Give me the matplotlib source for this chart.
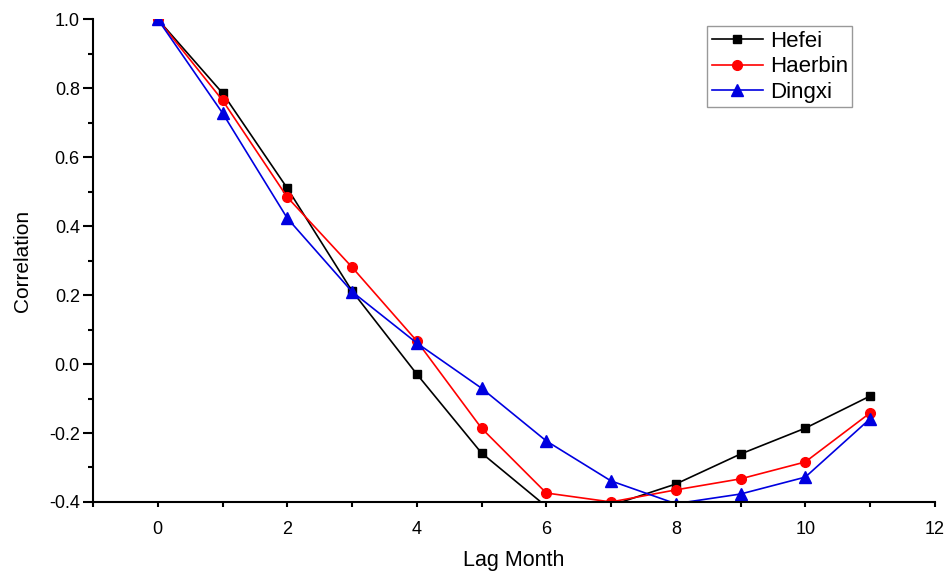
import matplotlib
matplotlib.use("Agg")
import matplotlib.pyplot as plt
from matplotlib.ticker import MultipleLocator, FormatStrFormatter

plt.rcParams['font.family'] = ['Liberation Sans', 'DejaVu Sans']

lags = [0, 1, 2, 3, 4, 5, 6, 7, 8, 9, 10, 11]
hefei = [1.0, 0.786, 0.51, 0.212, -0.029, -0.258, -0.413, -0.41, -0.348, -0.261, -0.186, -0.093]
haerbin = [1.0, 0.765, 0.484, 0.281, 0.067, -0.186, -0.374, -0.40, -0.365, -0.333, -0.284, -0.142]
dingxi = [1.0, 0.728, 0.423, 0.21, 0.061, -0.07, -0.223, -0.339, -0.405, -0.377, -0.328, -0.159]

fig = plt.figure(figsize=(9.49, 5.83), dpi=100)
ax = fig.add_axes([0.098, 0.139, 0.887, 0.828])

ax.plot(lags, hefei, color='black', marker='s', markersize=6, lw=1.2, label='Hefei')
ax.plot(lags, haerbin, color='red', marker='o', markersize=7, lw=1.2, label='Haerbin')
ax.plot(lags, dingxi, color='#0000e0', marker='^', markersize=8, lw=1.2, label='Dingxi')

ax.set_xlim(-1, 12)
ax.set_ylim(-0.4, 1.0)
ax.xaxis.set_major_locator(MultipleLocator(2))
ax.xaxis.set_minor_locator(MultipleLocator(1))
ax.yaxis.set_major_locator(MultipleLocator(0.2))
ax.yaxis.set_minor_locator(MultipleLocator(0.1))
ax.yaxis.set_major_formatter(FormatStrFormatter('%.1f'))

for s in ['top', 'right']:
    ax.spines[s].set_visible(False)
for s in ['left', 'bottom']:
    ax.spines[s].set_linewidth(1.5)
ax.tick_params(which='both', direction='out', width=1.5, labelsize=13, colors='black')
ax.tick_params(axis='y', which='major', length=7.5, pad=2)
ax.tick_params(axis='y', which='minor', length=3.6)
ax.tick_params(axis='x', which='major', length=3.6, pad=10)
ax.tick_params(axis='x', which='minor', length=3.6)

ax.set_xlabel('Lag Month', fontsize=15.5, labelpad=9)
ax.set_ylabel('Correlation', fontsize=15, labelpad=12)

leg = ax.legend(loc='upper left', bbox_to_anchor=(0.730, 0.985), fontsize=16,
                frameon=True, fancybox=False, edgecolor='#808080', borderpad=0.2,
                handlelength=2.3, labelspacing=0.2, handletextpad=0.3, borderaxespad=0)
leg.get_frame().set_linewidth(1.0)

fig.savefig('out.png', dpi=100)
